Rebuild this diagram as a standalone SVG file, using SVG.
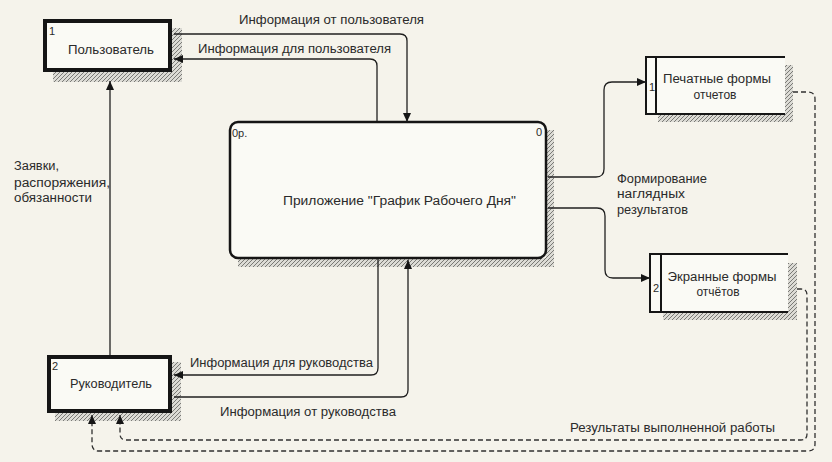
<svg xmlns="http://www.w3.org/2000/svg" width="832" height="462" viewBox="0 0 832 462">
  <defs>
    <style>
      .bg { fill: #f5f3eb; }
      .txt { font-family: "Liberation Sans", Arial, sans-serif; font-size: 12px; fill: #2a2a2a; }
      .num { font-family: "Liberation Sans", Arial, sans-serif; font-size: 11px; fill: #2a2a2a; }
      .mid { text-anchor: middle; }
      .ext { fill: #fafaf5; stroke: #151515; stroke-width: 4; }
      .proc { fill: #fafaf5; stroke: #151515; stroke-width: 2.5; }
      .store { fill: #fafaf5; stroke: none; }
      .storeline { fill: none; stroke: #151515; stroke-width: 2; }
      .shadow { fill: url(#hatch); }
      .flow { fill: none; stroke: #202020; stroke-width: 1.3; marker-end: url(#arrow); }
      .dash { fill: none; stroke: #303030; stroke-width: 1.3; stroke-dasharray: 5 3; marker-end: url(#arrow); }
    </style>
    <pattern id="hatch" patternUnits="userSpaceOnUse" width="4" height="4">
      <rect width="4" height="4" fill="#dcdbd5"/>
      <path d="M-1,1 L1,-1 M0,4 L4,0 M3,5 L5,3" stroke="#7a7a76" stroke-width="1"/>
    </pattern>
    <marker id="arrow" markerUnits="userSpaceOnUse" markerWidth="10" markerHeight="10" refX="9" refY="4" orient="auto">
      <path d="M0,0 L9,4 L0,8 z" fill="#151515" stroke="none"/>
    </marker>
  </defs>

  <rect class="bg" x="0" y="0" width="832" height="462"/>

  <g id="node-user">
    <rect class="shadow" x="172" y="28" width="10" height="54"/>
    <rect class="shadow" x="53" y="72" width="129" height="10"/>
    <rect class="ext" x="45" y="21" width="125" height="49"/>
    <text class="num" x="49" y="35">1</text>
    <text class="txt mid" x="111" y="54" textLength="86" lengthAdjust="spacingAndGlyphs">Пользователь</text>
  </g>

  <g id="node-process">
    <rect class="shadow" x="546" y="130" width="8" height="137"/>
    <rect class="shadow" x="238" y="258" width="316" height="9"/>
    <rect class="proc" x="230" y="122" width="316" height="136" rx="8" ry="8"/>
    <text class="num" x="232" y="137">0р.</text>
    <text class="num" x="536" y="136">0</text>
    <text class="txt" x="283" y="205" textLength="233" lengthAdjust="spacingAndGlyphs">Приложение "График Рабочего Дня"</text>
  </g>

  <g id="node-manager">
    <rect class="shadow" x="172" y="362" width="9" height="59"/>
    <rect class="shadow" x="55" y="413" width="126" height="8"/>
    <rect class="ext" x="49" y="357" width="121" height="54"/>
    <text class="num" x="52" y="370">2</text>
    <text class="txt mid" x="111" y="388" textLength="82" lengthAdjust="spacingAndGlyphs">Руководитель</text>
  </g>

  <g id="node-store1">
    <rect class="shadow" x="785" y="65" width="8" height="57"/>
    <rect class="shadow" x="658" y="114" width="135" height="8"/>
    <rect class="store" x="646" y="57" width="139" height="57"/>
    <path class="storeline" d="M785,57 H646 V114 H785 M656,57 V114"/>
    <text class="num" x="649" y="91">1</text>
    <text class="txt mid" x="717" y="83" textLength="108" lengthAdjust="spacingAndGlyphs">Печатные формы</text>
    <text class="txt mid" x="715" y="99" textLength="43" lengthAdjust="spacingAndGlyphs">отчетов</text>
  </g>

  <g id="node-store2">
    <rect class="shadow" x="788" y="263" width="9" height="57"/>
    <rect class="shadow" x="663" y="312" width="134" height="8"/>
    <rect class="store" x="650" y="254" width="138" height="58"/>
    <path class="storeline" d="M788,254 H650 V312 H788 M661,254 V312"/>
    <text class="num" x="653" y="292">2</text>
    <text class="txt mid" x="722" y="281" textLength="109" lengthAdjust="spacingAndGlyphs">Экранные формы</text>
    <text class="txt mid" x="718" y="296" textLength="43" lengthAdjust="spacingAndGlyphs">отчётов</text>
  </g>

  <g id="connectors">
    <path class="flow" d="M174,34 H400 Q407,34 407,41 V122"/>
    <path class="flow" d="M377,121 V66 Q377,59 370,59 H174"/>
    <path class="flow" d="M110,355 V81"/>
    <path class="flow" d="M548,177 H596 Q604,177 604,169 V90 Q604,82 612,82 H646"/>
    <path class="flow" d="M548,208 H597 Q605,208 605,216 V270 Q605,278 613,278 H650"/>
    <path class="flow" d="M378,259 V368 Q378,375 371,375 H174"/>
    <path class="flow" d="M174,397 H401 Q408,397 408,390 V260"/>
    <path class="dash" d="M793,92 H808 Q815,92 815,99 V444 Q815,451 808,451 H99 Q92,451 92,444 V415"/>
    <path class="dash" d="M797,289 H801 Q807,289 807,295 V434 Q807,440 801,440 H126 Q120,440 120,434 V415"/>

    <text class="txt" x="239" y="24" textLength="185" lengthAdjust="spacingAndGlyphs">Информация от пользователя</text>
    <text class="txt" x="198" y="53" textLength="193" lengthAdjust="spacingAndGlyphs">Информация для пользователя</text>
    <text class="txt" x="14" y="170" textLength="45" lengthAdjust="spacingAndGlyphs">Заявки,</text>
    <text class="txt" x="14" y="187" textLength="96" lengthAdjust="spacingAndGlyphs">распоряжения,</text>
    <text class="txt" x="14" y="202" textLength="78" lengthAdjust="spacingAndGlyphs">обязанности</text>
    <text class="txt" x="617" y="183" textLength="90" lengthAdjust="spacingAndGlyphs">Формирование</text>
    <text class="txt" x="617" y="198" textLength="68" lengthAdjust="spacingAndGlyphs">наглядных</text>
    <text class="txt" x="617" y="214" textLength="71" lengthAdjust="spacingAndGlyphs">результатов</text>
    <text class="txt" x="190" y="367" textLength="183" lengthAdjust="spacingAndGlyphs">Информация для руководства</text>
    <text class="txt" x="220" y="416" textLength="176" lengthAdjust="spacingAndGlyphs">Информация от руководства</text>
    <text class="txt" x="570" y="432" textLength="205" lengthAdjust="spacingAndGlyphs">Результаты выполненной работы</text>
  </g>
</svg>
